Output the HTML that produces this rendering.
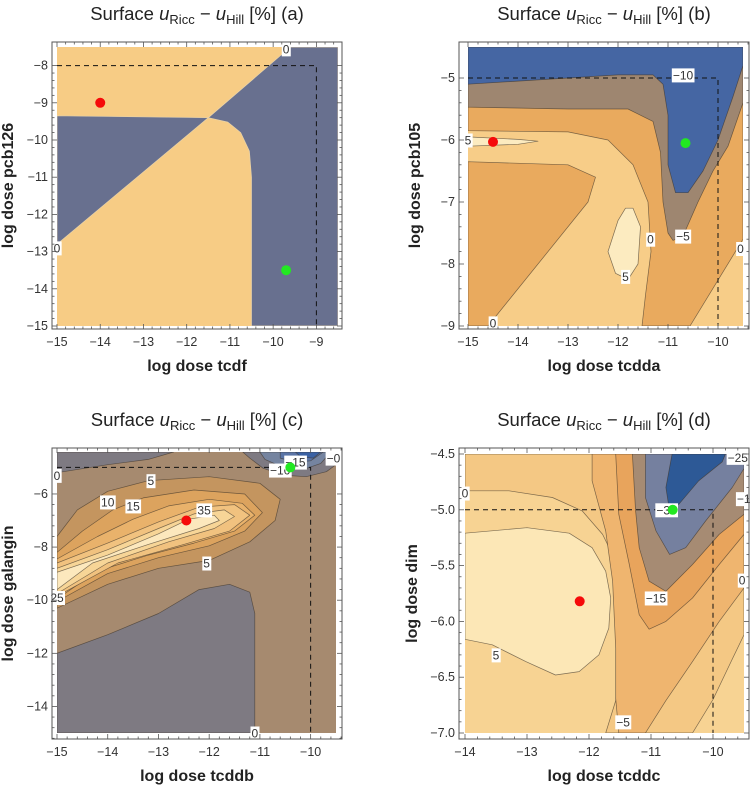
<!DOCTYPE html>
<html><head><meta charset="utf-8">
<style>
html,body{margin:0;padding:0;background:#fff;}
svg{display:block;font-family:"Liberation Sans",sans-serif;}
</style></head>
<body>
<svg id="fig" width="751" height="785" viewBox="0 0 751 785" xmlns="http://www.w3.org/2000/svg"></svg>
<script>
// ---------- Panel (a) data ----------
const aRegions = [
  {c:"#f7cc85", p:[[-15,-15],[-8.5,-15],[-8.5,-7.5],[-15,-7.5]]},
  {c:"#68708f", p:[[-9.6,-7.5],[-8.5,-7.5],[-8.5,-15],[-10.5,-15],[-10.5,-11],[-10.55,-10.3],[-10.75,-9.8],[-11.05,-9.52],[-11.5,-9.4]]},
  {c:"#68708f", p:[[-15,-9.35],[-11.5,-9.4],[-15,-12.8]]}
];
const aLabels = [[-9.7,-7.55,"0"],[-15,-12.9,"0"]];
const aPoints = [[-14,-9,"red"],[-9.7,-13.5,"green"]];
const aXTicks = [-15,-14,-13,-12,-11,-10,-9];
const aYTicks = [-8,-9,-10,-11,-12,-13,-14,-15];
const aRef = [-9,-8];

// ---------- Panel (b) data ----------
const bRegions = [
  {c:"#f7cd88", p:[[-15,-9],[-9.5,-9],[-9.5,-4.5],[-15,-4.5]]},
  {c:"#e9aa5e", p:[[-15,-5.0],[-9.5,-5.0],[-9.5,-7.6],[-10.56,-9],[-11.52,-9],[-11.45,-8.5],[-11.34,-7.8],[-11.4,-7],[-11.7,-6.4],[-12.2,-6.0],[-13,-5.87],[-15,-5.85]]},
  {c:"#e9aa5e", p:[[-15,-6.35],[-13,-6.4],[-12.45,-6.6],[-12.6,-7],[-14.6,-9],[-15,-9]]},
  {c:"#9e8670", p:[[-15,-5.47],[-13,-5.5],[-11.8,-5.5],[-11.3,-5.7],[-11.15,-6.2],[-11.1,-7],[-11.0,-7.5],[-10.9,-7.62],[-10.7,-7.55],[-10.4,-7.0],[-10.1,-6.5],[-9.8,-6.1],[-9.5,-5.4],[-9.5,-4.5],[-15,-4.5]]},
  {c:"#4566a3", p:[[-15,-4.5],[-9.5,-4.5],[-9.5,-4.8],[-9.7,-5.3],[-10.0,-6.0],[-10.3,-6.5],[-10.6,-6.85],[-10.85,-6.85],[-11.0,-6.4],[-11.0,-5.6],[-11.1,-5.1],[-11.3,-4.95],[-12,-4.95],[-13,-5.0],[-15,-5.1]]},
  {c:"#fcebc0", p:[[-15,-5.95],[-14,-5.99],[-13.6,-6.02],[-14,-6.07],[-15,-6.1]]},
  {c:"#fcebc0", p:[[-11.7,-7.1],[-11.55,-7.4],[-11.6,-8.0],[-11.8,-8.25],[-12.05,-8.15],[-12.2,-7.8],[-12.0,-7.3],[-11.85,-7.1]]}
];
const bLabels = [[-10.7,-4.95,"\u221210"],[-10.7,-7.55,"\u22125"],[-11.35,-7.6,"0"],[-11.85,-8.2,"5"],[-15,-6.0,"5"],[-14.5,-8.95,"0"],[-9.55,-7.75,"0"]];
const bPoints = [[-14.5,-6.03,"red"],[-10.65,-6.05,"green"]];
const bXTicks = [-15,-14,-13,-12,-11,-10];
const bYTicks = [-5,-6,-7,-8,-9];
const bRef = [-10,-5];

// ---------- Panel (c) data ----------
const cRegions = [
  {c:"#a68a6f", p:[[-15,-15],[-9.5,-15],[-9.5,-4.42],[-15,-4.42]]},
  {c:"#7e7a82", p:[[-15,-12.0],[-14,-11.3],[-13,-10.5],[-12.2,-9.6],[-11.6,-9.4],[-11.2,-9.7],[-11.1,-10.5],[-11.1,-15],[-15,-15]]},
  {c:"#7e7a82", p:[[-15,-4.42],[-12.7,-4.42],[-13.2,-4.7],[-14,-4.9],[-15,-5.2]]},
  {c:"#c4955f", p:[[-15,-7.6],[-14.6,-6.6],[-14.0,-5.9],[-13.2,-5.5],[-12.0,-5.35],[-11.0,-5.6],[-10.6,-6.2],[-10.7,-7.0],[-11.2,-7.8],[-12,-8.5],[-13,-8.8],[-14,-9.4],[-15,-10.3]]},
  {c:"#dca35e", p:[[-15,-8.2],[-14.5,-7.4],[-13.9,-6.6],[-13.3,-6.15],[-12.3,-5.85],[-11.3,-6.0],[-10.95,-6.7],[-11.3,-7.4],[-12,-7.95],[-13,-8.4],[-14,-9.0],[-15,-10.05]]},
  {c:"#e9b26b", p:[[-15,-8.45],[-14.2,-7.6],[-13.5,-6.95],[-12.8,-6.45],[-12,-6.2],[-11.35,-6.35],[-11.1,-6.8],[-11.5,-7.4],[-12.3,-7.85],[-13.2,-8.3],[-14.2,-8.9],[-15,-9.95]]},
  {c:"#f1c27f", p:[[-15,-8.6],[-14,-7.85],[-13,-7.05],[-12.2,-6.5],[-11.5,-6.4],[-11.2,-6.8],[-11.6,-7.4],[-12.5,-7.9],[-13.8,-8.6],[-15,-9.85]]},
  {c:"#f7d597", p:[[-15,-8.8],[-14,-8.1],[-13,-7.3],[-12.3,-6.75],[-11.7,-6.6],[-11.5,-6.85],[-11.9,-7.3],[-12.8,-7.8],[-14,-8.6],[-15,-9.75]]},
  {c:"#fce8bd", p:[[-15,-8.95],[-14,-8.3],[-13,-7.5],[-12.4,-6.95],[-11.9,-6.8],[-11.8,-7.0],[-12.2,-7.3],[-13.2,-7.9],[-14.3,-8.6],[-15,-9.6]]},
  {c:"#7e7a82", p:[[-11.34,-4.42],[-11.2,-4.65],[-10.94,-5.03],[-10.55,-5.29],[-10.09,-5.35],[-9.69,-5.16],[-9.5,-4.9],[-9.5,-4.42]]},
  {c:"#7584a0", p:[[-11.0,-4.42],[-10.9,-4.7],[-10.6,-4.95],[-10.1,-5.05],[-9.8,-4.85],[-9.6,-4.42]]},
  {c:"#5a74a6", p:[[-10.6,-4.42],[-10.6,-4.65],[-10.3,-4.8],[-10.0,-4.75],[-9.75,-4.42]]},
  {c:"#3b62a4", p:[[-10.3,-4.42],[-10.2,-4.6],[-9.95,-4.65],[-9.8,-4.42]]}
];
const cLabels = [[-13.15,-5.5,"5"],[-14.0,-6.3,"10"],[-13.5,-6.45,"15"],[-12.1,-6.6,"35"],[-12.05,-8.6,"5"],[-15,-9.9,"25"],[-15,-5.3,"0"],[-11.1,-15,"0"],[-10.6,-5.1,"\u221210"],[-10.3,-4.8,"\u221215"],[-9.55,-4.65,"\u22120"]];
const cPoints = [[-12.45,-7.0,"red"],[-10.4,-5.0,"green"]];
const cXTicks = [-15,-14,-13,-12,-11,-10];
const cYTicks = [-6,-8,-10,-12,-14];
const cRef = [-10,-5];

// ---------- Panel (d) data ----------
const dRegions = [
  {c:"#f7d393", p:[[-14,-7],[-9.5,-7],[-9.5,-4.5],[-14,-4.5]]},
  {c:"#f4c884", p:[[-14,-4.5],[-14,-4.83],[-13.29,-4.83],[-12.59,-4.89],[-12.11,-5.01],[-11.78,-5.22],[-11.57,-5.46],[-11.46,-5.7],[-11.41,-6.0],[-11.46,-6.39],[-11.57,-6.71],[-11.73,-7.0],[-10.33,-7.0],[-10.0,-6.7],[-9.7,-6.35],[-9.5,-6.12],[-9.5,-4.5]]},
  {c:"#fce7b6", p:[[-14,-5.21],[-13,-5.16],[-12.32,-5.21],[-11.95,-5.34],[-11.73,-5.55],[-11.65,-5.79],[-11.68,-6.06],[-11.84,-6.3],[-12.16,-6.45],[-12.54,-6.48],[-13.02,-6.36],[-13.56,-6.21],[-14,-6.16]]},
  {c:"#efb56f", p:[[-11.95,-4.5],[-11.95,-4.74],[-11.73,-5.19],[-11.62,-5.64],[-11.57,-6.24],[-11.57,-6.69],[-11.52,-7],[-11.09,-7],[-10.76,-6.71],[-10.33,-6.36],[-9.9,-6.0],[-9.5,-5.7],[-9.5,-4.5]]},
  {c:"#e8a45c", p:[[-11.57,-4.5],[-11.52,-5.04],[-11.35,-5.49],[-11.19,-5.94],[-11.03,-6.07],[-10.76,-6.0],[-10.33,-5.79],[-9.9,-5.49],[-9.5,-5.22],[-9.5,-4.5]]},
  {c:"#a68b73", p:[[-11.3,-4.5],[-11.25,-5.0],[-11.19,-5.34],[-11.03,-5.64],[-10.76,-5.73],[-10.33,-5.49],[-9.9,-5.22],[-9.5,-5.04],[-9.5,-4.5]]},
  {c:"#75809f", p:[[-11.09,-4.5],[-11.09,-4.89],[-10.92,-5.19],[-10.7,-5.4],[-10.44,-5.34],[-10.12,-5.1],[-9.69,-4.8],[-9.5,-4.63],[-9.5,-4.5]]},
  {c:"#2d5996", p:[[-10.66,-4.5],[-10.76,-4.8],[-10.71,-4.98],[-10.55,-4.95],[-10.23,-4.74],[-9.85,-4.57],[-9.8,-4.5]]}
];
const dLabels = [[-14,-4.85,"0"],[-13.5,-6.3,"5"],[-10.75,-5.0,"\u221235"],[-10.92,-5.79,"\u221215"],[-11.45,-6.9,"\u22125"],[-9.53,-5.63,"0"],[-9.6,-4.53,"\u221225"],[-9.45,-4.9,"\u221210"]];
const dPoints = [[-12.15,-5.82,"red"],[-10.65,-5.0,"green"]];
const dXTicks = [-14,-13,-12,-11,-10];
const dYTicks = [-4.5,-5.0,-5.5,-6.0,-6.5,-7.0];
const dRef = [-10,-5];

const NS = "http://www.w3.org/2000/svg";
const svg = document.getElementById("fig");
function mk(tag, attrs, parent){ const e=document.createElementNS(NS,tag); for(const k in attrs) e.setAttribute(k,attrs[k]); (parent||svg).appendChild(e); return e; }
function fmt(v,dec){ const s=Math.abs(v).toFixed(dec); return (v<0?"\u2212":"")+s; }

function panel(o){
  const g = mk("g",{});
  
  
  const sx = v => o.px[0] + (v-o.xd[0])/(o.xd[1]-o.xd[0])*(o.px[1]-o.px[0]);
  const sy = v => o.py[0] + (v-o.yd[0])/(o.yd[1]-o.yd[0])*(o.py[1]-o.py[0]);
  const clipId = "clip"+o.id;
  const cp = mk("clipPath",{id:clipId},g);
  mk("rect",{x:o.px[0],y:o.py[1],width:o.px[1]-o.px[0],height:o.py[0]-o.py[1]},cp);
  const rg = mk("g",{"clip-path":"url(#"+clipId+")"},g);
  
  
  o.regions.forEach((r,i)=>{
    const pts = r.p.map(q=>sx(q[0]).toFixed(1)+","+sy(q[1]).toFixed(1)).join(" ");
    const el = mk("polygon",{points:pts,fill:r.c,stroke:i===0?"none":o.stroke,"stroke-width":0.7,"stroke-linejoin":"round"},rg);
    
    
  });
  const dl = mk("polyline",{points:`${sx(o.xd[0])},${sy(o.ref[1])} ${sx(o.ref[0])},${sy(o.ref[1])} ${sx(o.ref[0])},${sy(o.yd[0])}`,fill:"none",stroke:"#111","stroke-width":1,"stroke-dasharray":"5,4"},g);
  
  
  o.labels.forEach(l=>{
    const t = mk("text",{x:sx(l[0]),y:sy(l[1])+4.5,"text-anchor":"middle","font-size":12,fill:"#333"},g);
    t.textContent = l[2];
    const b = t.getBBox();
    const r = mk("rect",{x:b.x-1,y:b.y,width:b.width+2,height:b.height,fill:"#fff"});
    g.insertBefore(r,t);
    
    
  });
  o.points.forEach(p=>{
    const c = mk("circle",{cx:sx(p[0]),cy:sy(p[1]),r:5,fill:p[2]==="red"?"#f50a0a":"#22e822"},g);
    
    
  });
  const f = mk("rect",{x:o.frame[0],y:o.frame[1],width:o.frame[2]-o.frame[0],height:o.frame[3]-o.frame[1],fill:"none",stroke:"#555","stroke-width":1},g);
  
  
  const tg = mk("g",{stroke:"#555","stroke-width":0.8},g);
  const xstep = o.xt[1]-o.xt[0];
  for(let i=0;i<o.xt.length;i++){
    for(let k=0;k<5;k++){
      const v = o.xt[i]+k*xstep/5; const X = sx(v);
      if(X<o.frame[0]||X>o.frame[2]) continue;
      const L = k===0?5:2.5;
      mk("line",{x1:X,y1:o.frame[3],x2:X,y2:o.frame[3]-L},tg);
      mk("line",{x1:X,y1:o.frame[1],x2:X,y2:o.frame[1]+L},tg);
    }
    const t = mk("text",{x:sx(o.xt[i]),y:o.frame[3]+17,"text-anchor":"middle","font-size":12.5,fill:"#333"},g);
    t.textContent = fmt(o.xt[i],0);
    
    
  }
  const ystep = o.yt[1]-o.yt[0];
  for(let i=0;i<o.yt.length;i++){
    for(let k=0;k<5;k++){
      const v = o.yt[i]+k*ystep/5; const Y = sy(v);
      if(Y<o.frame[1]||Y>o.frame[3]) continue;
      const L = k===0?5:2.5;
      mk("line",{x1:o.frame[0],y1:Y,x2:o.frame[0]+L,y2:Y},tg);
      mk("line",{x1:o.frame[2],y1:Y,x2:o.frame[2]-L,y2:Y},tg);
    }
    const t = mk("text",{x:o.frame[0]-4,y:sy(o.yt[i])+4,"text-anchor":"end","font-size":12.5,fill:"#333"},g);
    t.textContent = fmt(o.yt[i],o.ydec);
    
    
  }
  const cx = (o.frame[0]+o.frame[2])/2;
  const tt = mk("text",{x:cx,y:o.frame[1]-22,"text-anchor":"middle","font-size":18.5,fill:"#222"},g);
  tt.innerHTML = 'Surface <tspan font-style="italic">u</tspan><tspan font-size="13" dy="4">Ricc</tspan><tspan dy="-4"> \u2212 </tspan><tspan font-style="italic">u</tspan><tspan font-size="13" dy="4">Hill</tspan><tspan dy="-4">  [%] ('+o.id+')</tspan>';
  
  
  const xl = mk("text",{x:cx,y:o.frame[3]+42,"text-anchor":"middle","font-size":16,"font-weight":"bold",fill:"#222"},g);
  xl.textContent = o.xlab;
  
  
  const cy = (o.frame[1]+o.frame[3])/2;
  const yx = o.frame[0]-(o.ydec?42:39);
  const yl = mk("text",{x:yx,y:cy,"text-anchor":"middle","font-size":16,"font-weight":"bold",fill:"#222",transform:`rotate(-90 ${yx} ${cy})`},g);
  yl.textContent = o.ylab;
  
  
}

panel({id:"a",regions:aRegions,labels:aLabels,points:aPoints,xt:aXTicks,yt:aYTicks,ref:aRef,ydec:0,
  xd:[-15,-8.5],px:[57,338],yd:[-15,-7.5],py:[326,47],frame:[52,42,342,329],stroke:"#e8d2a8",
  xlab:"log dose tcdf",ylab:"log dose pcb126"});
panel({id:"b",regions:bRegions,labels:bLabels,points:bPoints,xt:bXTicks,yt:bYTicks,ref:bRef,ydec:0,
  xd:[-15,-9.5],px:[468,743],yd:[-9,-4.5],py:[326,47],frame:[459,42,749,329],stroke:"rgba(60,50,40,0.65)",
  xlab:"log dose tcdda",ylab:"log dose pcb105"});
panel({id:"c",regions:cRegions,labels:cLabels,points:cPoints,xt:cXTicks,yt:cYTicks,ref:cRef,ydec:0,
  xd:[-15,-9.5],px:[57,336],yd:[-15,-4.42],py:[733,452],frame:[52,448,342,739],stroke:"rgba(60,50,40,0.65)",
  xlab:"log dose tcddb",ylab:"log dose galangin"});
panel({id:"d",regions:dRegions,labels:dLabels,points:dPoints,xt:dXTicks,yt:dYTicks,ref:dRef,ydec:1,
  xd:[-14,-9.5],px:[465,744],yd:[-7,-4.5],py:[733,454],frame:[459,448,749,739],stroke:"rgba(60,50,40,0.65)",
  xlab:"log dose tcddc",ylab:"log dose dim"});
</script>
</body></html>
